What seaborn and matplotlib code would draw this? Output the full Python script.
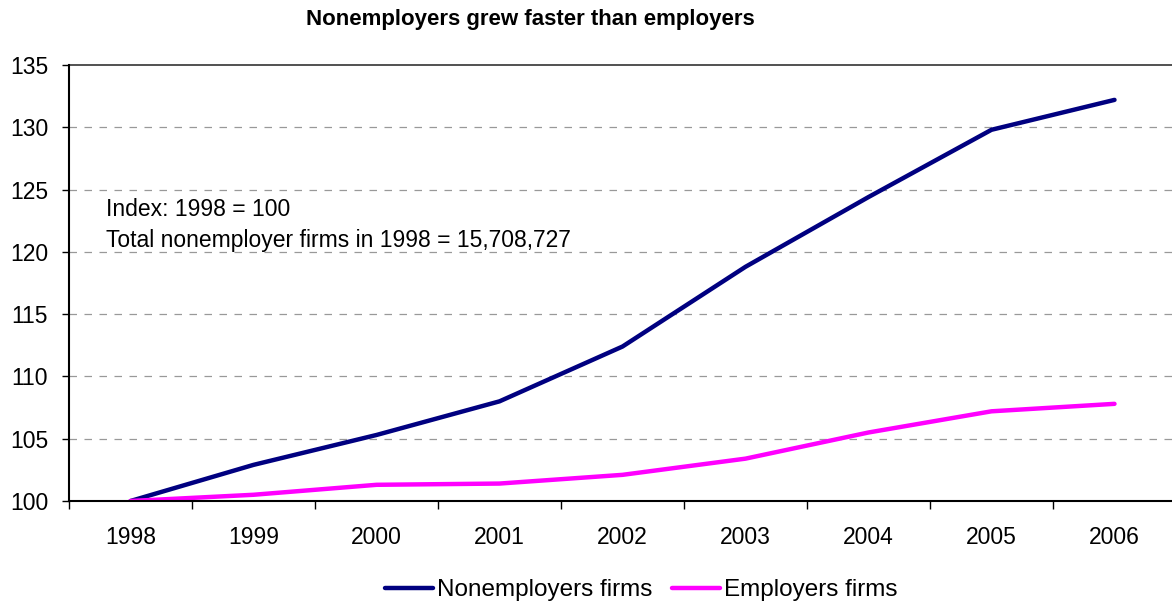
import matplotlib
matplotlib.use("Agg")
import matplotlib.pyplot as plt
import seaborn as sns
import pandas as pd
from matplotlib.ticker import FixedLocator

years = ["1998", "1999", "2000", "2001", "2002", "2003", "2004", "2005", "2006"]
nonemployers = [100.0, 102.9, 105.3, 108.0, 112.4, 118.8, 124.4, 129.8, 132.2]
employers = [100.0, 100.5, 101.3, 101.4, 102.1, 103.4, 105.5, 107.2, 107.8]
series_names = ["Nonemployers firms", "Employers firms"]
series_colors = ["#000080", "#FF00FF"]
y_ticks = [100, 105, 110, 115, 120, 125, 130, 135]

sns.set_style("white")
plt.rcParams["font.family"] = ["Liberation Sans", "DejaVu Sans"]
plt.rcParams["text.color"] = "black"
plt.rcParams["xtick.color"] = "black"
plt.rcParams["ytick.color"] = "black"

df = pd.DataFrame({
    "pos": list(range(len(years))) * 2,
    "value": nonemployers + employers,
    "series": [series_names[0]] * len(years) + [series_names[1]] * len(years),
})

fig = plt.figure(figsize=(11.72, 6.07), dpi=100)
ax = fig.add_axes([69 / 1172, 1 - 501 / 607, (1176 - 69) / 1172, (501 - 65) / 607])

sns.lineplot(data=df, x="pos", y="value", hue="series", palette=series_colors,
             hue_order=series_names, linewidth=3.2, ax=ax, legend=True)

ax.set_xlim(-0.5, len(years) - 0.5)
ax.set_ylim(100, 135)
ax.set_xticks(range(len(years)))
ax.set_xticklabels(years, fontsize=16.5)
ax.xaxis.set_minor_locator(FixedLocator([i - 0.5 for i in range(len(years) + 1)]))
ax.tick_params(axis="x", which="major", bottom=False, length=0, pad=18)
ax.tick_params(axis="x", which="minor", bottom=True, length=6, width=1,
               color="black", direction="out")
ax.set_yticks(y_ticks)
ax.set_yticklabels([str(v) for v in y_ticks], fontsize=16.5)
ax.tick_params(axis="y", left=True, length=5, width=1, color="black",
               direction="out", pad=10)
ax.set_xlabel("")
ax.set_ylabel("")

for v in y_ticks[1:-1]:
    ax.axhline(v, color="#999999", linewidth=0.9, linestyle=(0, (6, 6)), zorder=0)
ax.axhline(135, color="#333333", linewidth=1.2, zorder=0, clip_on=False)

for side in ["top", "right"]:
    ax.spines[side].set_visible(False)
for side in ["left", "bottom"]:
    ax.spines[side].set_color("black")
    ax.spines[side].set_linewidth(1.5)

note_x = (106 - 69) / (1176 - 69)
ax.text(note_x, (501 - 209) / 436, "Index: 1998 = 100", transform=ax.transAxes,
        fontsize=16.5, va="center", ha="left")
ax.text(note_x, (501 - 240) / 436, "Total nonemployer firms in 1998 = 15,708,727",
        transform=ax.transAxes, fontsize=16.5, va="center", ha="left")

fig.text(530 / 1172, 1 - 20 / 607, "Nonemployers grew faster than employers",
         fontsize=16, fontweight="bold", ha="center", va="center")

handles, labels = ax.get_legend_handles_labels()
ax.legend(handles, labels, loc="center", bbox_to_anchor=(641 / 1172, 17 / 607),
          bbox_transform=fig.transFigure, ncol=2, frameon=False, fontsize=17.5,
          handlelength=2.0, handletextpad=0.15, columnspacing=0.8)

fig.savefig("out.png", dpi=100)
